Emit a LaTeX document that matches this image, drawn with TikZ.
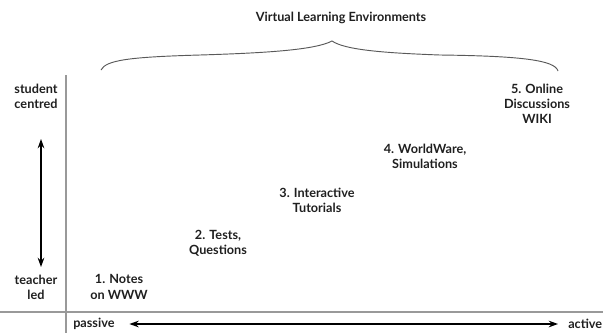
\documentclass[tikz,border=0pt]{standalone}
\usepackage{fontspec}
\setmainfont{Lato}
\usetikzlibrary{arrows.meta}

\begin{document}
\begin{tikzpicture}[x=0.75pt,y=-0.75pt,
  lbl/.style={font=\bfseries\fontsize{9.5}{11.4}\selectfont,text=black!88,align=center,inner sep=0pt},
  axis/.style={gray!80,line width=0.8pt},
  dbl/.style={{Stealth[length=7pt,width=5pt]}-{Stealth[length=7pt,width=5pt]},line width=0.9pt}]
\useasboundingbox (0,0) rectangle (603,333);
\coordinate (ytop) at (66,75);
\coordinate (ybot) at (66,333);
\coordinate (xl) at (0,312);
\coordinate (xr) at (603,312);
\draw[axis] (ytop) -- (ybot);
\draw[axis] (xl) -- (xr);
\node[lbl] (vle) at (341,18) {Virtual Learning Environments};
\coordinate (bl) at (101,70);
\coordinate (btip) at (332,41);
\coordinate (br) at (558,71);
\draw[gray!70!black,line width=0.7pt] (bl) .. controls (106,60) and (130,57) .. (200,55)
  .. controls (265,53) and (315,50) .. (btip)
  .. controls (345,50) and (385,53) .. (440,55)
  .. controls (520,56) and (555,60) .. (br);
\node[lbl] (stud) at (36,96) {student\\centred};
\node[lbl] (teach) at (36,287) {teacher\\led};
\coordinate (up) at (41,139);
\coordinate (down) at (41,267);
\draw[dbl] (up) -- (down);
\node[lbl,anchor=west] (pas) at (73,324) {passive};
\node[lbl,anchor=west] (act) at (568,324) {active};
\draw[dbl] ([xshift=11pt]pas.east) -- ([xshift=-7.5pt]act.west);
\node[lbl] (n1) at (119,287) {1. Notes\\on WWW};
\node[lbl] (n2) at (218,243) {2. Tests,\\Questions};
\node[lbl] (n3) at (317,200) {3. Interactive\\Tutorials};
\node[lbl] (n4) at (425,156) {4. WorldWare,\\Simulations};
\node[lbl] (n5) at (537,104) {5. Online\\Discussions\\WIKI};
\end{tikzpicture}
\end{document}
